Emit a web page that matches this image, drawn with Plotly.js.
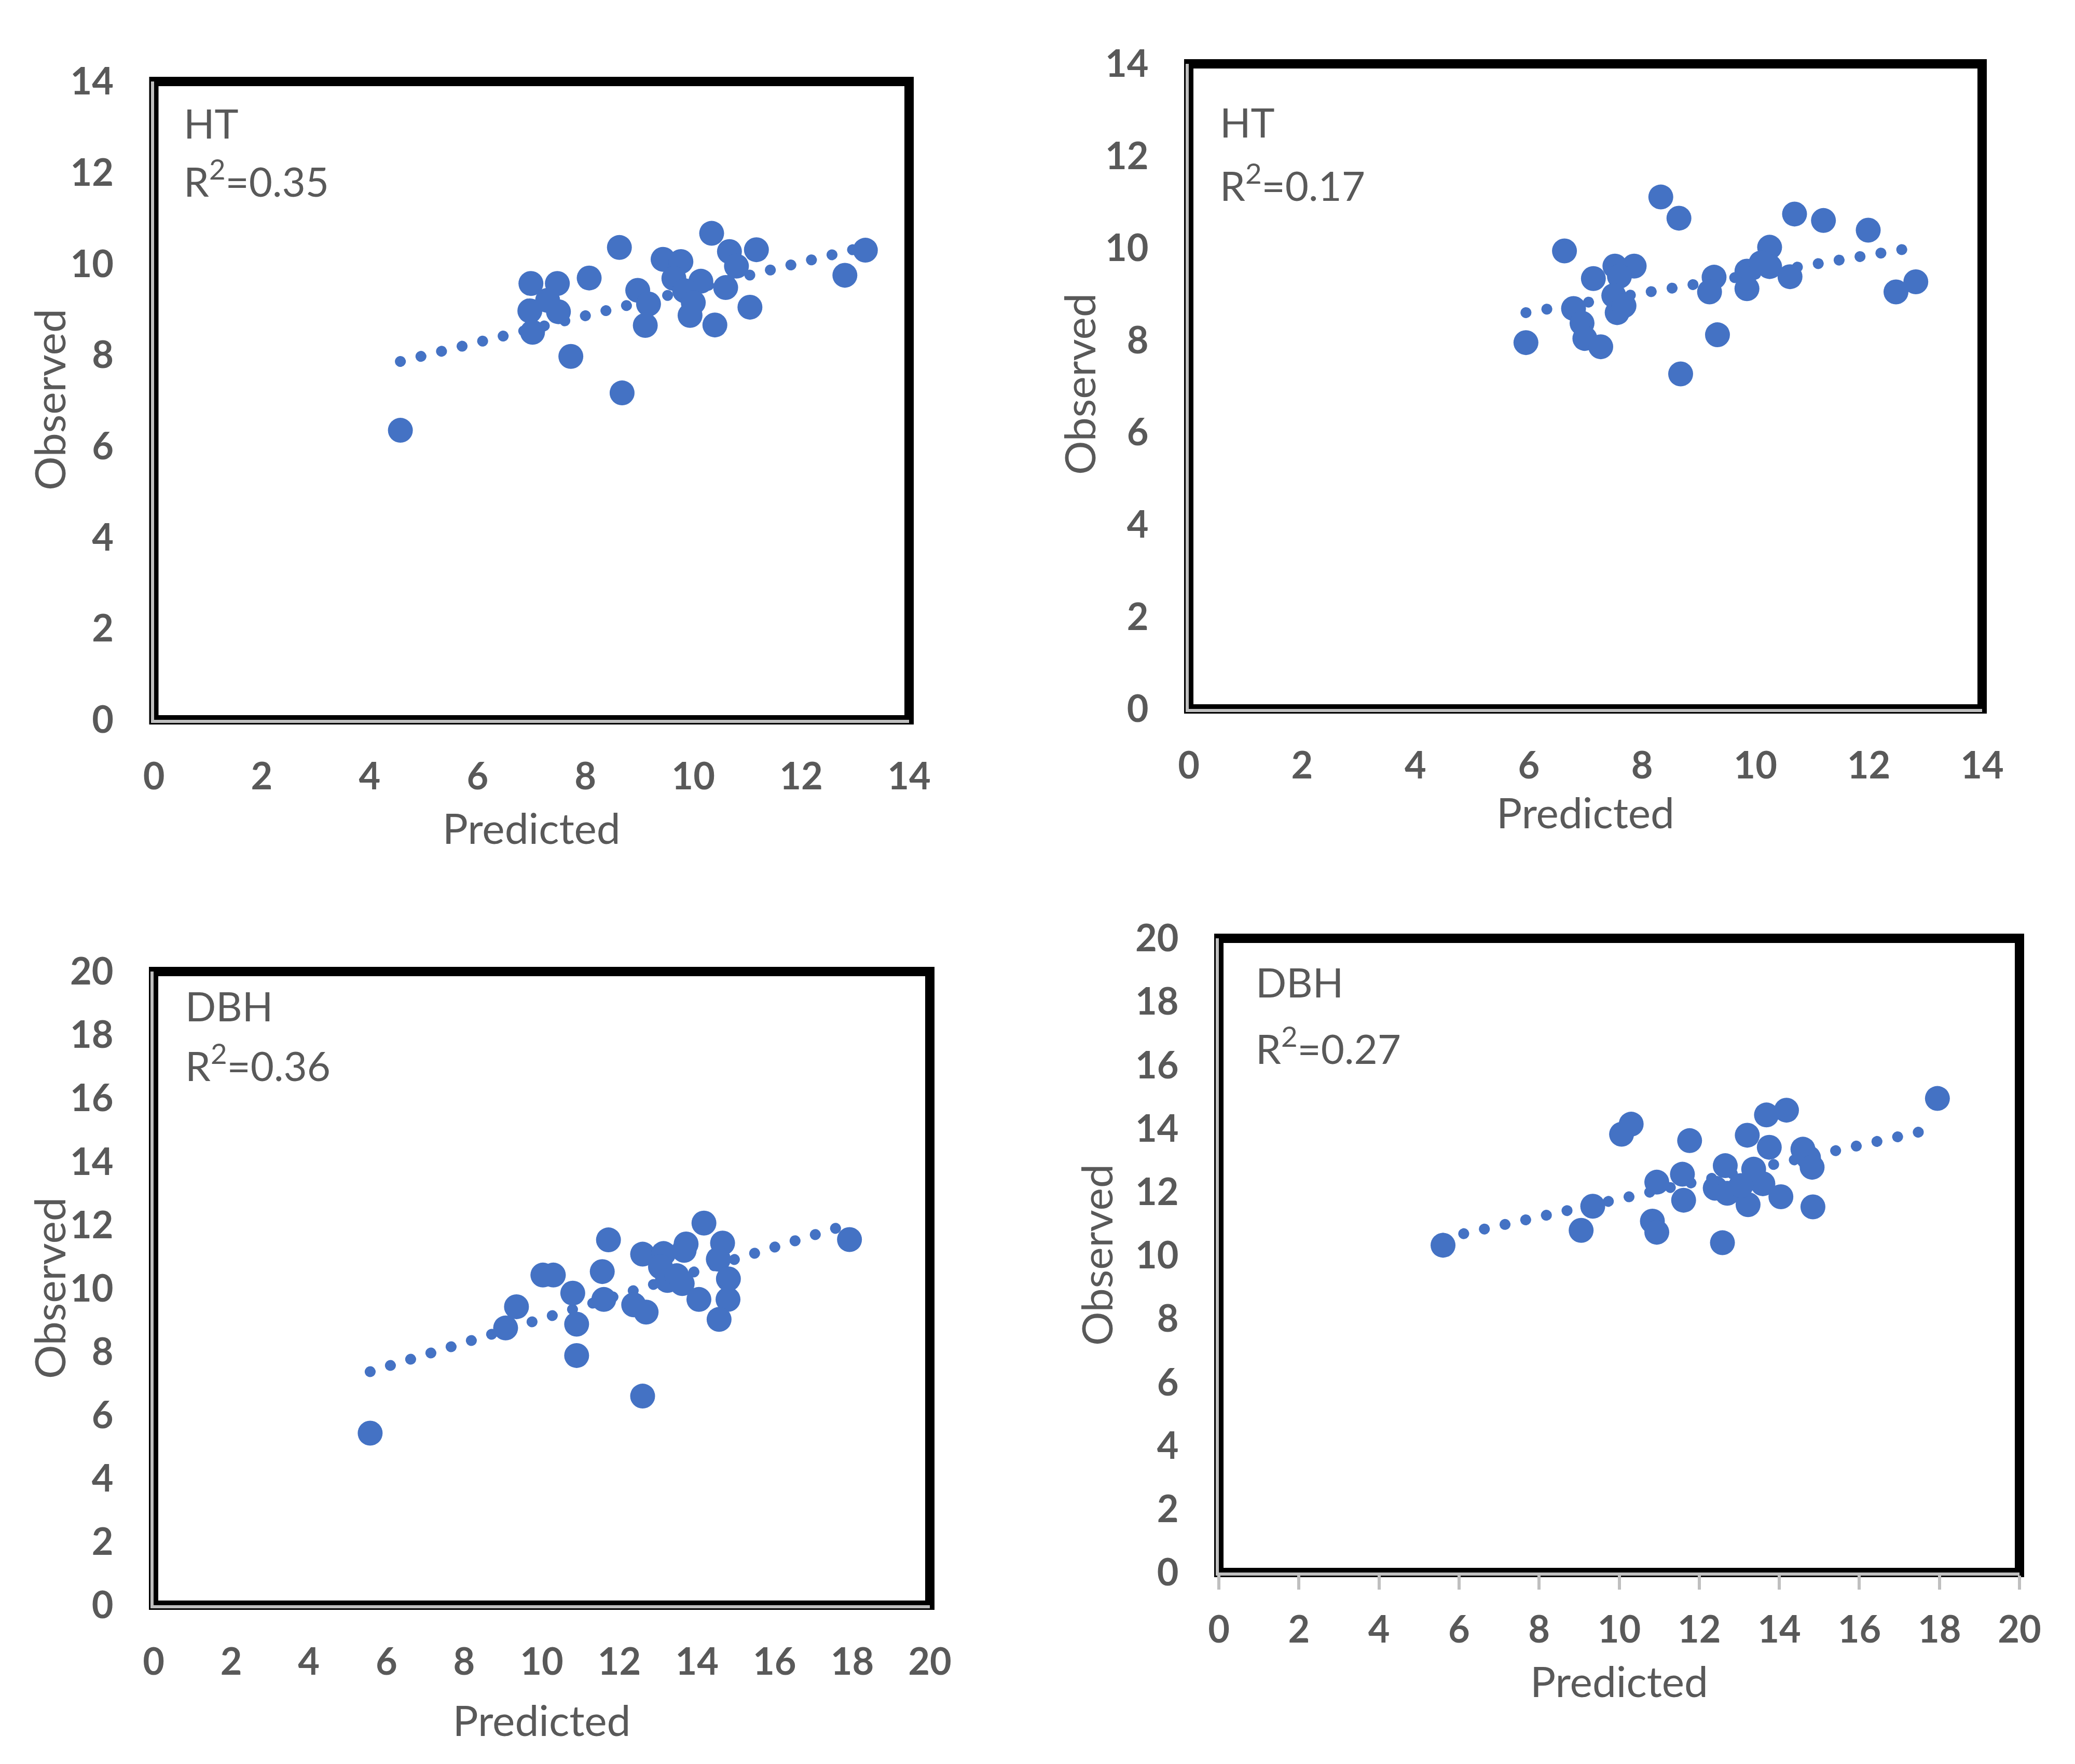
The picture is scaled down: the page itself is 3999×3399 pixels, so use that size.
<!DOCTYPE html>
<html>
<head>
<meta charset="utf-8">
<script src="https://cdn.plot.ly/plotly-3.0.1.min.js"></script>
<style>
    body { margin: 0; background: #ffffff; }
    #plot { width: 3999px; height: 3399px; }
    /* round dots for the dotted trend lines */
    .js-line { stroke-linecap: round; }
</style>
</head>
<body>
<div id="plot"></div>
<script>
/** ------------------------- Data ------------------------ **/
// Panel 1 : HT, R2 = 0.35
let ht1Pred = [4.57, 8.68, 7.73, 8.63, 10.34, 11.17, 13.19, 12.81, 10.67, 10.8, 9.44, 9.77, 8.07, 6.99, 7.48,
               6.97, 7.02, 7.3, 7.5, 8.97, 9.17, 9.11, 9.64, 10.14, 9.84, 10.0, 9.94, 10.4, 10.6, 11.05];
let ht1Obs  = [6.35, 7.17, 7.97, 10.36, 10.67, 10.31, 10.30, 9.75, 10.27, 9.95, 10.1, 10.05, 9.69, 9.57, 9.57,
               8.97, 8.5, 9.2, 8.95, 9.42, 9.12, 8.65, 9.68, 9.62, 9.41, 9.15, 8.87, 8.66, 9.48, 9.05];
let ht1TrendX = [4.57, 13.19];
let ht1TrendY = [7.86, 10.38];

// Panel 2 : HT, R2 = 0.17
let ht2Pred = [5.95, 6.63, 8.33, 8.65, 8.68, 9.33, 10.69, 11.2, 11.99, 12.48, 12.83, 7.14, 7.52, 7.86, 7.6,
               6.79, 6.94, 6.99, 7.27, 7.5, 7.56, 7.68, 9.27, 9.19, 9.85, 9.85, 10.25, 10.25, 10.1, 10.61];
let ht2Obs  = [7.95, 9.94, 11.11, 10.65, 7.27, 8.12, 10.74, 10.6, 10.39, 9.05, 9.27, 9.34, 9.61, 9.61, 9.39,
               8.69, 8.37, 8.04, 7.86, 8.97, 8.6, 8.75, 9.37, 9.05, 9.5, 9.12, 10.02, 9.6, 9.68, 9.38];
let ht2TrendX = [5.95, 12.83];
let ht2TrendY = [8.6, 10.02];

// Panel 3 : DBH, R2 = 0.36
let dbh1Pred = [5.58, 12.6, 10.9, 10.9, 10.8, 9.07, 9.35, 10.03, 10.3, 11.56, 11.72, 11.6, 12.37, 12.69, 12.6,
                13.14, 13.06, 13.24, 13.48, 13.62, 13.72, 13.67, 14.18, 14.05, 14.66, 14.55, 14.81, 14.8, 14.57, 17.93];
let dbh1Obs  = [5.43, 6.6, 7.88, 8.87, 9.85, 8.75, 9.42, 10.42, 10.42, 10.53, 11.53, 9.65, 9.48, 9.25, 11.08,
                11.1, 10.68, 10.25, 10.4, 10.15, 11.4, 11.2, 12.06, 9.65, 11.43, 10.92, 10.3, 9.65, 9.02, 11.54];
let dbh1TrendX = [5.58, 17.93];
let dbh1TrendY = [7.37, 12.03];

// Panel 4 : DBH, R2 = 0.27
let dbh2Pred = [5.6, 9.05, 9.34, 10.06, 10.3, 10.94, 10.83, 10.94, 11.58, 11.76, 11.61, 12.58, 12.65, 12.4, 12.7,
                13.36, 13.22, 13.59, 13.2, 13.68, 14.18, 13.75, 14.04, 14.59, 14.73, 14.82, 14.84, 17.95, 13.04];
let dbh2Obs  = [10.32, 10.79, 11.55, 13.82, 14.14, 12.31, 11.08, 10.73, 12.56, 13.62, 11.74, 10.4, 12.83, 12.12, 11.96,
                12.72, 11.6, 12.26, 13.79, 14.43, 14.58, 13.41, 11.85, 13.35, 13.08, 12.78, 11.53, 14.95, 12.2];
let dbh2TrendX = [5.6, 17.95];
let dbh2TrendY = [10.54, 14.02];

// tick values and panel labels
let htTicks = [0, 2, 4, 6, 8, 10, 12, 14];
let dbhTicks = [0, 2, 4, 6, 8, 10, 12, 14, 16, 18, 20];
let panelNames = ["HT", "HT", "DBH", "DBH"];
let panelR2 = ["0.35", "0.17", "0.36", "0.27"];

/** ------------------------- Styles ------------------------ **/
let blue = "#4472C4";
let grey = "#595959";
let W = 3999;
let H = 3399;

/* helpers to build the traces */
function pointTrace(x, y, xa, ya) {
    return {
        x: x, y: y, xaxis: xa, yaxis: ya,
        type: "scatter", mode: "markers",
        marker: {color: blue, size: 48},
        cliponaxis: false,
        showlegend: false
    };
}

function trendTrace(x, y, xa, ya) {
    return {
        x: x, y: y, xaxis: xa, yaxis: ya,
        type: "scatter", mode: "lines",
        line: {color: blue, width: 21, dash: "0.1px,40.7px"},
        showlegend: false
    };
}

let data = [
    trendTrace(ht1TrendX, ht1TrendY, "x", "y"),
    pointTrace(ht1Pred, ht1Obs, "x", "y"),
    trendTrace(ht2TrendX, ht2TrendY, "x2", "y2"),
    pointTrace(ht2Pred, ht2Obs, "x2", "y2"),
    trendTrace(dbh1TrendX, dbh1TrendY, "x3", "y3"),
    pointTrace(dbh1Pred, dbh1Obs, "x3", "y3"),
    trendTrace(dbh2TrendX, dbh2TrendY, "x4", "y4"),
    pointTrace(dbh2Pred, dbh2Obs, "x4", "y4")
];

/* axis builder: box given in pixels of the page */
function xAxis(ticks, left, right, anchor, titleStandoff, withTicks) {
    let ax = {
        domain: [left / W, right / W],
        anchor: anchor,
        range: [0, ticks[ticks.length - 1]],
        tickvals: ticks,
        showline: true, linecolor: "#bfbfbf", linewidth: 6,
        showgrid: false, zeroline: false,
        ticks: "",
        tickfont: {family: "Lato", size: 72, color: grey, weight: "bold"},
        ticklabelstandoff: 42,
        title: {text: "Predicted", font: {family: "Lato", size: 82, color: grey}, standoff: titleStandoff},
        fixedrange: true
    };
    if (withTicks) {
        ax.ticks = "outside";
        ax.ticklen = 27;
        ax.tickwidth = 6;
        ax.tickcolor = "#bfbfbf";
        ax.ticklabelstandoff = 16;
    }
    return ax;
}

function yAxis(ticks, top, bottom, anchor) {
    return {
        domain: [1 - bottom / H, 1 - top / H],
        anchor: anchor,
        range: [0, ticks[ticks.length - 1]],
        tickvals: ticks,
        showline: true, linecolor: "#bfbfbf", linewidth: 6,
        showgrid: false, zeroline: false,
        ticks: "",
        tickfont: {family: "Lato", size: 72, color: grey, weight: "bold"},
        ticklabelstandoff: 57,
        fixedrange: true
    };
}

/* black frame round every plot area */
function frame(xa, ya) {
    return {
        type: "rect", xref: xa + " domain", yref: ya + " domain",
        x0: 0, x1: 1, y0: 0, y1: 1,
        line: {color: "#000000", width: 18},
        layer: "below"
    };
}

/* panel labels in the top left corner, y titles left of the axes */
let labelPos = [[352, 237, 344], [2349, 235, 352], [355, 1938, 2048], [2418, 1892, 2015]];
let yTitlePos = [[94, 770], [2079, 740], [94, 2482], [2112, 2418]];
let annotations = [];
for (let i = 0; i < 4; i++) {
    annotations.push({
        xref: "paper", yref: "paper", x: labelPos[i][0] / W, y: 1 - labelPos[i][1] / H,
        xanchor: "left", yanchor: "middle", showarrow: false,
        text: panelNames[i], font: {family: "Lato", size: 78, color: grey}
    });
    annotations.push({
        xref: "paper", yref: "paper", x: labelPos[i][0] / W, y: 1 - labelPos[i][2] / H,
        xanchor: "left", yanchor: "middle", showarrow: false,
        text: "R<sup>2</sup>=" + panelR2[i], font: {family: "Lato", size: 78, color: grey}
    });
    annotations.push({
        xref: "paper", yref: "paper", x: yTitlePos[i][0] / W, y: 1 - yTitlePos[i][1] / H,
        xanchor: "center", yanchor: "middle", showarrow: false, textangle: -90,
        text: "Observed", font: {family: "Lato", size: 82, color: grey}
    });
}

let layout = {
    width: W, height: H,
    autosize: false,
    margin: {l: 0, r: 0, t: 0, b: 0},
    paper_bgcolor: "#ffffff",
    plot_bgcolor: "rgba(0,0,0,0)",
    showlegend: false,
    xaxis:  xAxis(htTicks, 296.5, 1752, "y", 35, false),
    yaxis:  yAxis(htTicks, 157, 1387, "x"),
    xaxis2: xAxis(htTicks, 2291, 3820, "y2", 25, false),
    yaxis2: yAxis(htTicks, 123, 1366, "x2"),
    xaxis3: xAxis(dbhTicks, 296, 1792, "y3", 48, false),
    yaxis3: yAxis(dbhTicks, 1872, 3093, "x3"),
    xaxis4: xAxis(dbhTicks, 2349, 3892, "y4", 35, true),
    yaxis4: yAxis(dbhTicks, 1808, 3030, "x4"),
    shapes: [frame("x", "y"), frame("x2", "y2"), frame("x3", "y3"), frame("x4", "y4")],
    annotations: annotations
};

Plotly.newPlot("plot", data, layout, {displayModeBar: false, staticPlot: true});
</script>
</body>
</html>
